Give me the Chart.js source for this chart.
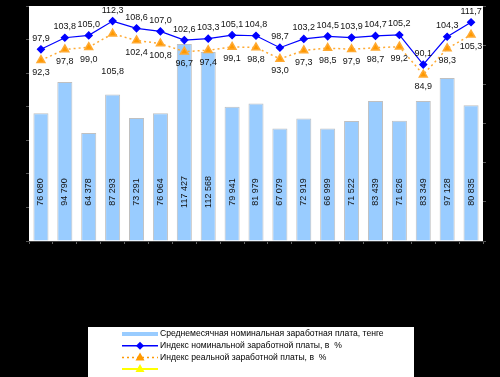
<!DOCTYPE html>
<html>
<head>
<meta charset="utf-8">
<script src="https://cdn.jsdelivr.net/npm/chart.js@4"></script>
<style>
html, body { margin: 0; padding: 0; background: #000; }
canvas { display: block; }
</style>
</head>
<body>
<canvas id="grafico" width="500" height="377"></canvas>
<script>
// подписи категорий на исходном рисунке не видны (чёрным по чёрному)
var kategorii = ['1', '2', '3', '4', '5', '6', '7', '8', '9', '10', '11', '12', '13', '14', '15', '16', '17', '18', '19'];
var zarplata = [76080, 94790, 64378, 87293, 73291, 76064, 117427, 112568, 79941, 81979, 67079, 72919, 66999, 71522, 83439, 71626, 83349, 97128, 80835];
var indeks_nominal = [97.9, 103.8, 105.0, 112.3, 108.6, 107.0, 102.6, 103.3, 105.1, 104.8, 98.7, 103.2, 104.5, 103.9, 104.7, 105.2, 90.1, 104.3, 111.7];
var indeks_real = [92.3, 97.8, 99.0, 105.8, 102.4, 100.8, 96.7, 97.4, 99.1, 98.8, 93.0, 97.3, 98.5, 97.9, 98.7, 99.2, 84.9, 98.3, 105.3];
var legenda = [
    'Среднемесячная номинальная заработная плата, тенге',
    'Индекс номинальной заработной платы, в  %',
    'Индекс реальной заработной платы, в  %',
    ''
];

var shrift = '9px "Liberation Sans", Arial, sans-serif';
var shrift_leg = '8.6px "Liberation Sans", Arial, sans-serif';
var cvet_bar = '#99CCFF';
var cvet_nom = '#0000FF';
var cvet_real = '#FF9900';
var cvet_zhelt = '#FFFF00';

function tysyachi(v) {
    return String(v).replace(/\B(?=(\d{3})+(?!\d))/g, ' ');
}
function zapyataya(v) {
    return v.toFixed(1).replace('.', ',');
}

var fon = {
    id: 'fon',
    beforeDraw: function (chart) {
        var c = chart.ctx, a = chart.chartArea;
        c.save();
        c.fillStyle = '#000';
        c.fillRect(0, 0, chart.width, chart.height);
        c.fillStyle = '#fff';
        c.fillRect(a.left, a.top, a.right - a.left, a.bottom - a.top);
        c.restore();
    }
};

var podpisi = {
    id: 'podpisi',
    afterDatasetsDraw: function (chart) {
        var c = chart.ctx, a = chart.chartArea;
        c.save();
        c.font = shrift;
        c.fillStyle = '#111';
        c.textAlign = 'center';
        c.textBaseline = 'middle';

        chart.getDatasetMeta(0).data.forEach(function (el, i) {
            c.save();
            c.translate(el.x, a.bottom - 49);
            c.rotate(-Math.PI / 2);
            c.fillText(tysyachi(zarplata[i]), 0, 0);
            c.restore();
        });
        chart.getDatasetMeta(1).data.forEach(function (el, i) {
            c.fillText(zapyataya(indeks_nominal[i]), el.x, el.y - 11);
        });
        chart.getDatasetMeta(2).data.forEach(function (el, i) {
            var dy = (i == 3) ? 38 : 12;
            c.fillText(zapyataya(indeks_real[i]), el.x, el.y + dy);
        });
        c.restore();
    }
};

var legenda_plugin = {
    id: 'legenda_plugin',
    afterDraw: function (chart) {
        var c = chart.ctx;
        var x0 = 88, y0 = 327;
        c.save();
        c.fillStyle = '#fff';
        c.fillRect(x0, y0, 326, 50);
        c.font = shrift_leg;
        c.textBaseline = 'middle';
        var sx = 122, ex = 158, mx = 140;
        for (var i = 0; i < legenda.length; i++) {
            var y = 334 + i * 11.7;
            if (i == 0) {
                c.fillStyle = cvet_bar;
                c.fillRect(sx, y - 2, ex - sx, 4);
            } else {
                var col = [cvet_nom, cvet_real, cvet_zhelt][i - 1];
                c.strokeStyle = col;
                c.fillStyle = col;
                c.lineWidth = (i == 3) ? 2 : 1.5;
                c.setLineDash(i == 2 ? [2, 3] : []);
                c.beginPath();
                c.moveTo(sx, y);
                c.lineTo(ex, y);
                c.stroke();
                c.setLineDash([]);
                c.beginPath();
                if (i == 1) {
                    c.moveTo(mx, y - 4); c.lineTo(mx + 4, y); c.lineTo(mx, y + 4); c.lineTo(mx - 4, y);
                } else {
                    c.moveTo(mx, y - 5); c.lineTo(mx + 4.5, y + 3); c.lineTo(mx - 4.5, y + 3);
                }
                c.closePath();
                c.fill();
            }
            c.fillStyle = '#000';
            c.fillText(legenda[i], 160, y);
        }
        c.restore();
    }
};

var ctx = document.getElementById('grafico').getContext('2d');
var grafico = new Chart(ctx, {
    type: 'bar',
    data: {
        labels: kategorii,
        datasets: [{
            type: 'bar',
            label: legenda[0],
            data: zarplata,
            yAxisID: 'y',
            backgroundColor: cvet_bar,
            borderColor: '#C0C0C0',
            borderWidth: 1,
            borderSkipped: 'bottom',
            categoryPercentage: 1,
            barPercentage: 0.63,
            order: 3
        }, {
            type: 'line',
            label: legenda[1],
            data: indeks_nominal,
            yAxisID: 'y1',
            borderColor: cvet_nom,
            backgroundColor: cvet_nom,
            borderWidth: 1.2,
            pointStyle: 'rectRot',
            pointRadius: 3.5,
            tension: 0,
            fill: false,
            order: 1
        }, {
            type: 'line',
            label: legenda[2],
            data: indeks_real,
            yAxisID: 'y1',
            borderColor: '#FFAA33',
            backgroundColor: cvet_real,
            borderWidth: 1.5,
            borderDash: [2, 3],
            pointStyle: 'triangle',
            pointRadius: 4.5,
            tension: 0,
            fill: false,
            order: 2
        }, {
            type: 'line',
            label: legenda[3],
            data: [],
            yAxisID: 'y1',
            borderColor: cvet_zhelt,
            backgroundColor: cvet_zhelt,
            pointStyle: 'triangle',
            order: 0
        }]
    },
    options: {
        responsive: false,
        animation: false,
        layout: { padding: { top: 3, left: 0, right: 0, bottom: 0 } },
        plugins: {
            legend: { display: false },
            tooltip: { enabled: false }
        },
        scales: {
            x: {
                ticks: { display: false },
                grid: { drawOnChartArea: false, tickLength: 3, color: '#666' },
                border: { color: '#444' },
                afterFit: function (s) { s.height = 136; }
            },
            y: {
                position: 'left',
                min: 0,
                max: 140000,
                ticks: { display: false, stepSize: 20000 },
                grid: { drawOnChartArea: false, tickLength: 3, color: '#555' },
                border: { display: false },
                afterFit: function (s) { s.width = 29; }
            },
            y1: {
                position: 'right',
                min: 0,
                max: 120,
                ticks: { display: false, stepSize: 20 },
                grid: { drawOnChartArea: false, tickLength: 3, color: '#555' },
                border: { display: false },
                afterFit: function (s) { s.width = 17; }
            }
        }
    },
    plugins: [fon, podpisi, legenda_plugin]
});
</script>
</body>
</html>
